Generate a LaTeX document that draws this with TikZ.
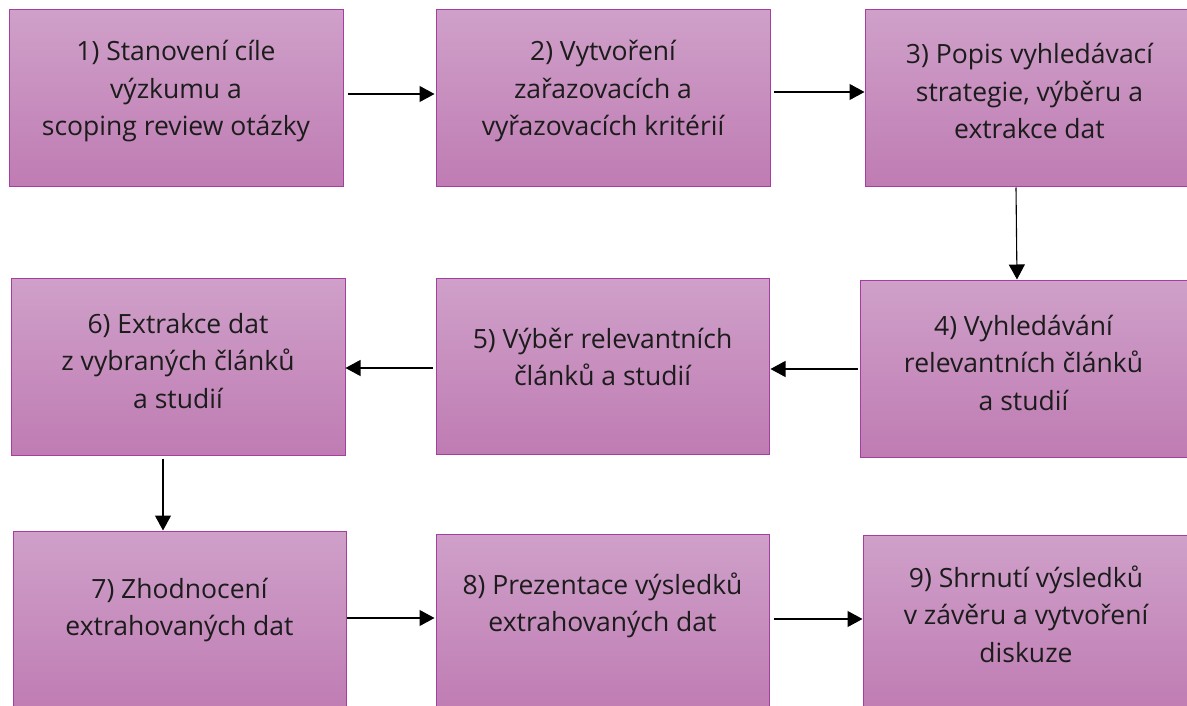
\documentclass[tikz,border=0pt]{standalone}
\usepackage{fontspec}
\setmainfont{Open Sans}
\usetikzlibrary{arrows.meta}
\definecolor{boxtop}{RGB}{207,160,201}
\definecolor{boxbot}{RGB}{191,124,179}
\definecolor{boxline}{RGB}{165,62,160}
\definecolor{txt}{RGB}{28,28,28}
\newcommand{\ml}[1]{\begin{tabular}[t]{@{}c@{}}#1\end{tabular}}
\tikzset{
  box/.style={rectangle, draw=boxline, line width=1pt, top color=boxtop, bottom color=boxbot, inner sep=0pt},
  lbl/.style={anchor=base, inner sep=0pt, text=txt, font=\fontsize{26.5}{37.5}\selectfont},
  arr/.style={draw=black, line width=1.1pt, -{Triangle[length=15pt,width=16pt]}}
}
\begin{document}
\begin{tikzpicture}[x=1pt,y=-1pt]
\useasboundingbox (0,0) rectangle (1187,706);
\begin{scope}
\clip (0,0) rectangle (1187,706);
% boxes
\node[box, minimum width=334pt, minimum height=177pt] (b1) at (176,98.5) {};
\node[box, minimum width=334pt, minimum height=177pt] (b2) at (603,98.5) {};
\node[box, minimum width=329pt, minimum height=177pt] (b3) at (1029.5,98.5) {};
\node[box, minimum width=327pt, minimum height=177pt] (b4) at (1023.5,368.5) {};
\node[box, minimum width=333pt, minimum height=176pt] (b5) at (602.5,366) {};
\node[box, minimum width=334pt, minimum height=177pt] (b6) at (178,366.5) {};
\node[box, minimum width=333pt, minimum height=181pt] (b7) at (179.5,621.5) {};
\node[box, minimum width=333pt, minimum height=178pt] (b8) at (602.5,623) {};
\node[box, minimum width=326pt, minimum height=177pt] (b9) at (1026,623.5) {};
\end{scope}
% texts
\node[lbl] (t1) at (176,61) {\ml{1) Stanovení cíle\\výzkumu a\\scoping review otázky}};
\node[lbl] (t2) at (603,61) {\ml{2) Vytvoření\\zařazovacích a\\vyřazovacích kritérií}};
\node[lbl] (t3) at (1029.5,64) {\ml{3) Popis vyhledávací\\strategie, výběru a\\extrakce dat}};
\node[lbl] (t4) at (1023.5,335) {\ml{4) Vyhledávání\\relevantních článků\\a studií}};
\node[lbl] (t5) at (602.5,348) {\ml{5) Výběr relevantních\\článků a studií}};
\node[lbl] (t6) at (178,333) {\ml{6) Extrakce dat\\z vybraných článků\\a studií}};
\node[lbl] (t7) at (179.5,598) {\ml{7) Zhodnocení\\extrahovaných dat}};
\node[lbl] (t8) at (602.5,594) {\ml{8) Prezentace výsledků\\extrahovaných dat}};
\node[lbl] (t9) at (1026,587) {\ml{9) Shrnutí výsledků\\v závěru a vytvoření\\diskuze}};
% connectors
\draw[arr, shorten <=4pt, shorten >=1pt] ([yshift=4.5pt]b1.east) -- ([yshift=4.5pt]b2.west);
\draw[arr, shorten <=3pt] ([yshift=6.5pt]b2.east) -- ([yshift=6.5pt]b3.west);
\draw[arr] ([xshift=-13.5pt]b3.south) -- ([xshift=-6.5pt]b4.north);
\draw[arr, shorten <=2pt, shorten >=1pt] ([yshift=-0.5pt]b4.west) -- ([yshift=-3pt]b5.east);
\draw[arr, shorten <=3pt] ([yshift=-2pt]b5.west) -- ([yshift=-1.5pt]b6.east);
\draw[arr, shorten <=3pt] ([xshift=-15pt]b6.south) -- ([xshift=-16.5pt]b7.north);
\draw[arr, shorten >=1pt] ([yshift=3.5pt]b7.east) -- ([yshift=5pt]b8.west);
\draw[arr, shorten <=4pt] ([yshift=4pt]b8.east) -- ([yshift=4.5pt]b9.west);
\end{tikzpicture}
\end{document}
